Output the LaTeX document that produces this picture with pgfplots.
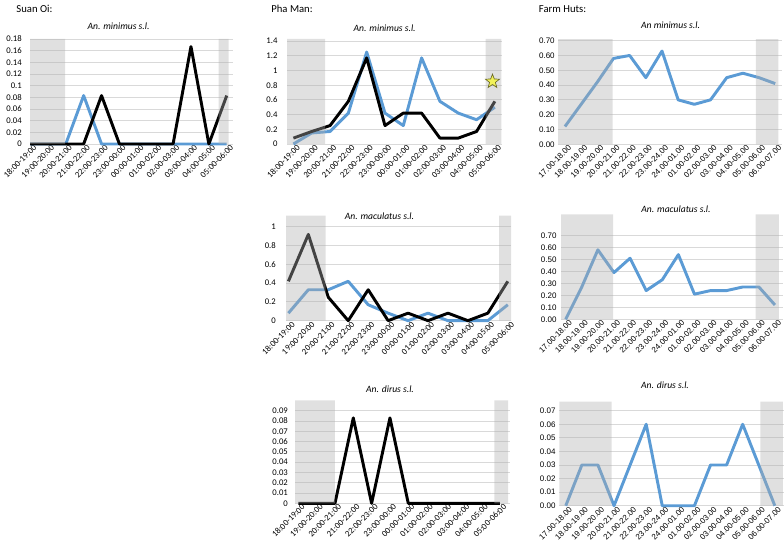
\documentclass[border=0pt]{standalone}
\usepackage{fontspec}
\setmainfont{Carlito}
\newfontfamily\arialf{Liberation Sans}
\usepackage{pgfplots}
\pgfplotsset{compat=1.18}
\definecolor{xlblue}{HTML}{5B9BD5}
\definecolor{bandgray}{RGB}{174,174,174}
\definecolor{gridgray}{HTML}{D9D9D9}
\definecolor{staryellow}{HTML}{F2F25A}
\definecolor{staredge}{HTML}{6B6B25}

\pgfdeclareplotmark{fstar}{%
  \pgfpathmoveto{\pgfpointpolar{90}{\pgfplotmarksize}}%
  \pgfpathlineto{\pgfpointpolar{126}{0.42\pgfplotmarksize}}%
  \pgfpathlineto{\pgfpointpolar{162}{\pgfplotmarksize}}%
  \pgfpathlineto{\pgfpointpolar{198}{0.42\pgfplotmarksize}}%
  \pgfpathlineto{\pgfpointpolar{234}{\pgfplotmarksize}}%
  \pgfpathlineto{\pgfpointpolar{270}{0.42\pgfplotmarksize}}%
  \pgfpathlineto{\pgfpointpolar{306}{\pgfplotmarksize}}%
  \pgfpathlineto{\pgfpointpolar{342}{0.42\pgfplotmarksize}}%
  \pgfpathlineto{\pgfpointpolar{18}{\pgfplotmarksize}}%
  \pgfpathlineto{\pgfpointpolar{54}{0.42\pgfplotmarksize}}%
  \pgfpathclose
  \pgfusepathqfillstroke
}

\pgfplotsset{
  panel/.style={
    scale only axis, anchor=south west, clip=false,
    axis line style={draw=none}, enlargelimits=false,
    scaled ticks=false,
    ymajorgrids, grid style={gridgray, line width=0.7pt},
    major tick length=0pt, ymin=0,
    tick label style={font=\fontsize{6.5}{7}\selectfont},
    xticklabel style={rotate=45, anchor=north east, inner sep=0.5pt, xshift=2pt, yshift=-1pt},
    yticklabel style={anchor=east, inner sep=0pt},
  },
  night/.style={
    xtick={0,...,11},
    xticklabels={18:00-19:00,19:00-20:00,20:00-21:00,21:00-22:00,22:00-23:00,23:00-00:00,
      00:00-01:00,01:00-02:00,02:00-03:00,03:00-04:00,04:00-05:00,05:00-06:00},
  },
  huts/.style={
    xtick={0,...,13},
    tick label style={font=\arialf\fontsize{6}{7}\selectfont},
    xticklabels={17.00-18.00,18.00-19.00,19.00-20.00,20.00-21.00,21.00-22.00,22.00-23.00,
      23.00-24.00,24.00-01.00,01.00-02.00,02.00-03.00,03.00-04.00,04.00-05.00,05.00-06.00,06.00-07.00},
  },
  blueline/.style={xlblue, line width=2.2pt, line join=round, no markers},
  blackline/.style={black, line width=2.2pt, line join=round, no markers},
  band/.style={draw=none, fill=bandgray, fill opacity=0.39},
}

\begin{document}
\begin{tikzpicture}
\path[use as bounding box] (0,0) rectangle (588pt,-408.75pt);

% ---------------- Suan Oi ----------------
\node[anchor=west, font=\fontsize{8}{9}\selectfont] at (8.8pt,-6.5pt) {Suan Oi:};
\node[font=\itshape\fontsize{7.2}{8}\selectfont] at (88.9pt,-20pt) {An. minimus s.l.};
\begin{axis}[panel, night, at={(22.5pt,-108pt)}, width=152.25pt, height=78.75pt,
  xmin=0, xmax=11.35, ymax=0.18,
  ytick={0,0.02,0.04,0.06,0.08,0.1,0.12,0.14,0.16,0.18},
  yticklabels={0,0.02,0.04,0.06,0.08,0.1,0.12,0.14,0.16,0.18},
  yticklabel style={xshift=-6pt}]
\addplot[blueline] coordinates {(0,0) (1,0) (2,0) (3,0.083) (4,0) (5,0) (6,0) (7,0) (8,0) (9,0) (10,0) (11,0)};
\addplot[blackline] coordinates {(0,0) (1,0) (2,0) (3,0) (4,0.083) (5,0) (6,0) (7,0) (8,0) (9,0.167) (10,0) (11,0.083)};
\addplot[band] coordinates {(0,0) (1.96,0) (1.96,0.18) (0,0.18)} \closedcycle;
\addplot[band] coordinates {(10.54,0) (11.1,0) (11.1,0.18) (10.54,0.18)} \closedcycle;
\end{axis}

% ---------------- Pha Man ----------------
\node[anchor=west, font=\fontsize{8}{9}\selectfont] at (200pt,-6.5pt) {Pha Man:};
\node[font=\itshape\fontsize{7.2}{8}\selectfont] at (288.5pt,-21pt) {An. minimus s.l.};
\begin{axis}[panel, night, at={(215.25pt,-108pt)}, width=161.25pt, height=78.9pt,
  xmin=-0.35, xmax=11.39, ymax=1.43,
  ytick={0,0.2,0.4,0.6,0.8,1,1.2,1.4},
  yticklabels={0,0.2,0.4,0.6,0.8,1,1.2,1.4},
  yticklabel style={xshift=-7pt}]
\addplot[blueline] coordinates {(0,0) (1,0.15) (2,0.17) (3,0.42) (4,1.25) (5,0.42) (6,0.25) (7,1.17) (8,0.58) (9,0.42) (10,0.33) (11,0.5)};
\addplot[blackline] coordinates {(0,0.08) (1,0.17) (2,0.25) (3,0.58) (4,1.17) (5,0.25) (6,0.42) (7,0.42) (8,0.08) (9,0.08) (10,0.17) (11,0.58)};
\addplot[band] coordinates {(-0.35,0) (1.73,0) (1.73,1.43) (-0.35,1.43)} \closedcycle;
\addplot[band] coordinates {(10.5,0) (11.36,0) (11.36,1.43) (10.5,1.43)} \closedcycle;
\addplot[only marks, mark=fstar, mark size=5.5pt, mark options={fill=staryellow, draw=staredge, line width=0.5pt}]
  coordinates {(10.87,0.85)};
\end{axis}

\node[font=\itshape\fontsize{7.2}{8}\selectfont] at (284.6pt,-162.5pt) {An. maculatus s.l.};
\begin{axis}[panel, night, at={(214.5pt,-240.5pt)}, width=168.75pt, height=78.75pt,
  xmin=-0.12, xmax=11.16, ymax=1.12,
  ytick={0,0.2,0.4,0.6,0.8,1},
  yticklabels={0,0.2,0.4,0.6,0.8,1},
  yticklabel style={xshift=-7.5pt}]
\addplot[blueline] coordinates {(0,0.08) (1,0.33) (2,0.33) (3,0.42) (4,0.17) (5,0.08) (6,0) (7,0.08) (8,0) (9,0) (10,0) (11,0.17)};
\addplot[blackline] coordinates {(0,0.42) (1,0.92) (2,0.25) (3,0) (4,0.33) (5,0) (6,0.08) (7,0) (8,0.08) (9,0) (10,0.08) (11,0.42)};
\addplot[band] coordinates {(-0.12,0) (1.87,0) (1.87,1.12) (-0.12,1.12)} \closedcycle;
\addplot[band] coordinates {(10.56,0) (11.16,0) (11.16,1.12) (10.56,1.12)} \closedcycle;
\end{axis}

\node[font=\itshape\fontsize{7.2}{8}\selectfont] at (292.5pt,-291.75pt) {An. dirus s.l.};
\begin{axis}[panel, night, at={(221.25pt,-377.5pt)}, width=161.25pt, height=77.2pt,
  xmin=-0.18, xmax=11.55, ymax=0.1,
  ytick={0,0.01,0.02,0.03,0.04,0.05,0.06,0.07,0.08,0.09},
  yticklabels={0,0.01,0.02,0.03,0.04,0.05,0.06,0.07,0.08,0.09},
  yticklabel style={xshift=-5.2pt}]
\addplot[blackline] coordinates {(0,0) (1,0) (2,0) (3,0.083) (4,0) (5,0.083) (6,0) (7,0) (8,0) (9,0) (10,0) (11,0)};
\addplot[band] coordinates {(-0.18,0) (2.0,0) (2.0,0.1) (-0.18,0.1)} \closedcycle;
\addplot[band] coordinates {(10.7,0) (11.45,0) (11.45,0.1) (10.7,0.1)} \closedcycle;
\end{axis}

% ---------------- Farm Huts ----------------
\node[anchor=west, font=\fontsize{8}{9}\selectfont] at (400.7pt,-6.5pt) {Farm Huts:};
\node[font=\itshape\fontsize{7.2}{8}\selectfont] at (502.9pt,-18.75pt) {An minimus s.l.};
\begin{axis}[panel, huts, at={(418.5pt,-108.2pt)}, width=168pt, height=78.8pt,
  xmin=-0.43, xmax=13.42, ymax=0.71,
  ytick={0,0.1,0.2,0.3,0.4,0.5,0.6,0.7},
  yticklabels={0.00,0.10,0.20,0.30,0.40,0.50,0.60,0.70},
  yticklabel style={xshift=-2.3pt}]
\addplot[blueline] coordinates {(0,0.12) (1,0.27) (2,0.42) (3,0.58) (4,0.60) (5,0.45) (6,0.63) (7,0.30) (8,0.27) (9,0.30) (10,0.45) (11,0.48) (12,0.45) (13,0.41)};
\addplot[band] coordinates {(-0.43,0) (2.95,0) (2.95,0.71) (-0.43,0.71)} \closedcycle;
\addplot[band] coordinates {(11.8,0) (13.2,0) (13.2,0.71) (11.8,0.71)} \closedcycle;
\end{axis}

\node[font=\itshape\fontsize{7.2}{8}\selectfont] at (507pt,-156.75pt) {An. maculatus s.l.};
\begin{axis}[panel, huts, at={(420.75pt,-239.5pt)}, width=166.5pt, height=78.75pt,
  xmin=-0.29, xmax=13.5, ymax=0.876,
  ytick={0,0.1,0.2,0.3,0.4,0.5,0.6,0.7},
  yticklabels={0.00,0.10,0.20,0.30,0.40,0.50,0.60,0.70},
  yticklabel style={xshift=-3.2pt}]
\addplot[blueline] coordinates {(0,0) (1,0.27) (2,0.58) (3,0.39) (4,0.51) (5,0.24) (6,0.33) (7,0.54) (8,0.21) (9,0.24) (10,0.24) (11,0.27) (12,0.27) (13,0.12)};
\addplot[band] coordinates {(-0.29,0) (2.95,0) (2.95,0.876) (-0.29,0.876)} \closedcycle;
\addplot[band] coordinates {(11.8,0) (13.25,0) (13.25,0.876) (11.8,0.876)} \closedcycle;
\end{axis}

\node[font=\itshape\fontsize{7.2}{8}\selectfont] at (498.75pt,-288.75pt) {An. dirus s.l.};
\begin{axis}[panel, huts, at={(419.5pt,-379.3pt)}, width=168.5pt, height=78pt,
  xmin=-0.4, xmax=13.57, ymax=0.0766,
  ytick={0,0.01,0.02,0.03,0.04,0.05,0.06,0.07},
  yticklabels={0.00,0.01,0.02,0.03,0.04,0.05,0.06,0.07},
  yticklabel style={xshift=-2.7pt}]
\addplot[blueline] coordinates {(0,0) (1,0.03) (2,0.03) (3,0) (4,0.03) (5,0.06) (6,0) (7,0) (8,0) (9,0.03) (10,0.03) (11,0.06) (12,0.03) (13,0)};
\addplot[band] coordinates {(-0.4,0) (2.85,0) (2.85,0.0766) (-0.4,0.0766)} \closedcycle;
\addplot[band] coordinates {(12.1,0) (13.5,0) (13.5,0.0766) (12.1,0.0766)} \closedcycle;
\end{axis}
\end{tikzpicture}
\end{document}
